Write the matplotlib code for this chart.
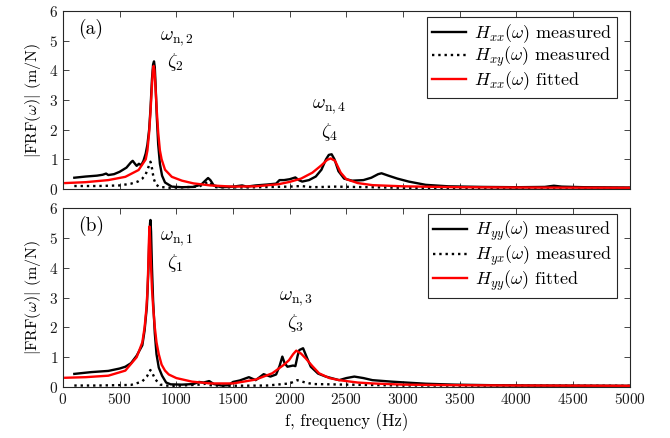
import matplotlib
matplotlib.use("Agg")
import matplotlib.pyplot as plt

plt.rcParams["font.family"] = "cmr10"
plt.rcParams["mathtext.fontset"] = "cm"
plt.rcParams["axes.formatter.use_mathtext"] = True
plt.rcParams["axes.unicode_minus"] = False

# ---- (a) x-direction ----
f_xx_meas = [100, 200, 300, 350, 380, 400, 450, 500, 560, 600, 615, 635, 650, 670, 690,
             710, 730, 745, 760, 772, 785, 795, 803, 810, 818, 828, 840, 855, 874, 900,
             960, 1050, 1150, 1220, 1260, 1280, 1300, 1330, 1400, 1500, 1580, 1620,
             1700, 1800, 1880, 1910, 1950, 2000, 2050, 2080, 2110, 2170, 2230, 2280,
             2320, 2345, 2370, 2395, 2430, 2480, 2550, 2650, 2720, 2780, 2810, 2870,
             2950, 3050, 3200, 3400, 3700, 4000, 4250, 4330, 4400, 4600, 5000]
h_xx_meas = [0.38, 0.42, 0.45, 0.48, 0.52, 0.47, 0.50, 0.58, 0.72, 0.90, 0.95, 0.85, 0.78,
             0.85, 0.80, 0.95, 1.20, 1.50, 2.00, 2.70, 3.70, 4.20, 4.30, 4.10, 3.40,
             2.40, 1.50, 0.85, 0.45, 0.22, 0.08, 0.06, 0.07, 0.15, 0.30, 0.37, 0.30,
             0.12, 0.06, 0.08, 0.12, 0.08, 0.12, 0.15, 0.18, 0.30, 0.30, 0.33, 0.39,
             0.30, 0.25, 0.30, 0.42, 0.65, 1.00, 1.15, 1.17, 1.00, 0.60, 0.35, 0.28,
             0.30, 0.38, 0.50, 0.53, 0.45, 0.35, 0.25, 0.14, 0.09, 0.07, 0.06, 0.07,
             0.11, 0.08, 0.06, 0.05]

f_xy_meas = [100, 300, 500, 600, 660, 700, 730, 760, 772, 785, 800, 820, 850, 950, 1200,
             1260, 1285, 1310, 1350, 1600, 2000, 2100, 2200, 2400, 3000, 5000]
h_xy_meas = [0.10, 0.10, 0.12, 0.18, 0.25, 0.35, 0.50, 0.80, 0.92, 0.70, 0.35, 0.15,
             0.07, 0.04, 0.08, 0.20, 0.25, 0.15, 0.06, 0.05, 0.08, 0.10, 0.06, 0.08,
             0.04, 0.03]

f_xx_fit = [20, 200, 400, 550, 667, 730, 745, 760, 772, 785, 793, 800, 807, 815, 828,
            840, 855, 870, 900, 960, 1050, 1150, 1300, 1500, 1700, 1900, 2000, 2100,
            2200, 2280, 2330, 2362, 2400, 2450, 2500, 2600, 2730, 3000, 3500, 4000, 5000]
h_xx_fit = [0.20, 0.23, 0.30, 0.41, 0.64, 1.00, 1.30, 1.90, 2.60, 3.50, 4.00, 4.15, 4.00,
            3.50, 2.60, 1.90, 1.30, 1.00, 0.65, 0.41, 0.28, 0.19, 0.12, 0.08, 0.09,
            0.16, 0.24, 0.35, 0.55, 0.80, 0.98, 1.03, 0.95, 0.55, 0.33, 0.20, 0.13,
            0.09, 0.06, 0.05, 0.04]

# ---- (b) y-direction ----
f_yy_meas = [100, 250, 400, 500, 550, 600, 650, 700, 720, 740, 752, 760, 768, 772, 777,
             785, 795, 810, 825, 845, 874, 910, 950, 1050, 1150, 1200, 1240, 1290, 1330,
             1400, 1460, 1500, 1560, 1640, 1700, 1770, 1830, 1880, 1910, 1935, 1955,
             1980, 2030, 2050, 2070, 2085, 2118, 2150, 2186, 2250, 2318, 2436, 2500,
             2570, 2650, 2730, 2900, 3025, 3200, 3450, 3800, 4200, 5000]
h_yy_meas = [0.44, 0.50, 0.54, 0.62, 0.68, 0.80, 1.05, 1.40, 1.90, 2.70, 3.80, 4.80, 5.50,
             5.60, 5.20, 4.00, 2.90, 1.80, 1.10, 0.65, 0.38, 0.15, 0.09, 0.08, 0.10,
             0.17, 0.15, 0.20, 0.10, 0.05, 0.06, 0.17, 0.22, 0.33, 0.23, 0.43, 0.35,
             0.42, 0.70, 1.02, 0.80, 0.68, 0.72, 0.70, 1.05, 1.24, 1.30, 1.00, 0.68,
             0.45, 0.35, 0.23, 0.30, 0.35, 0.30, 0.23, 0.18, 0.15, 0.11, 0.08, 0.06,
             0.05, 0.04]

f_yx_meas = [100, 300, 600, 697, 740, 771, 790, 815, 860, 950, 1200, 1260, 1300, 1400,
             1800, 2000, 2067, 2120, 2200, 2500, 3000, 5000]
h_yx_meas = [0.05, 0.05, 0.07, 0.18, 0.35, 0.57, 0.45, 0.25, 0.08, 0.03, 0.08, 0.11,
             0.06, 0.04, 0.05, 0.12, 0.23, 0.17, 0.10, 0.08, 0.05, 0.04]

f_yy_fit = [20, 200, 400, 550, 650, 700, 720, 735, 745, 752, 758, 763, 768, 775, 785,
            795, 810, 825, 845, 870, 900, 933, 1000, 1139, 1300, 1500, 1700, 1846, 1950,
            1994, 2030, 2058, 2100, 2141, 2200, 2259, 2350, 2436, 2600, 2730, 3000,
            3500, 4000, 5000]
h_yy_fit = [0.31, 0.33, 0.38, 0.55, 1.00, 1.50, 2.00, 2.60, 3.20, 4.00, 4.90, 5.38, 5.00,
            4.20, 3.30, 2.70, 2.00, 1.50, 1.10, 0.75, 0.55, 0.42, 0.30, 0.18, 0.12,
            0.12, 0.25, 0.46, 0.75, 0.90, 1.10, 1.22, 1.12, 0.96, 0.70, 0.46, 0.30,
            0.23, 0.15, 0.12, 0.08, 0.06, 0.05, 0.04]

x_ticks = [0, 500, 1000, 1500, 2000, 2500, 3000, 3500, 4000, 4500, 5000]
y_ticks = [0, 1, 2, 3, 4, 5, 6]

fig = plt.figure(figsize=(6.7, 4.38), dpi=100)
ax_a = fig.add_axes([0.094, 0.5685, 0.846, 0.4065])
ax_b = fig.add_axes([0.094, 0.1164, 0.846, 0.4086])

spine_col = "#262626"


def style(ax):
    ax.set_xlim(0, 5000)
    ax.set_ylim(0, 6)
    ax.set_xticks(x_ticks)
    ax.set_yticks(y_ticks)
    ax.tick_params(direction="in", top=True, right=True, length=4, width=0.6,
                   color=spine_col, labelsize=11, labelcolor="#1a1a1a")
    for s in ax.spines.values():
        s.set_color(spine_col)
        s.set_linewidth(0.8)
    ax.set_ylabel(r"$|\mathrm{FRF}(\omega)|$ (m/N)", fontsize=11.5)


lw = 1.7
ax_a.plot(f_xx_meas, h_xx_meas, color="black", lw=lw, label=r"$H_{xx}(\omega)$ measured")
ax_a.plot(f_xy_meas, h_xy_meas, color="black", lw=lw, ls=":", label=r"$H_{xy}(\omega)$ measured")
ax_a.plot(f_xx_fit, h_xx_fit, color="red", lw=lw, label=r"$H_{xx}(\omega)$ fitted")

ax_b.plot(f_yy_meas, h_yy_meas, color="black", lw=lw, label=r"$H_{yy}(\omega)$ measured")
ax_b.plot(f_yx_meas, h_yx_meas, color="black", lw=lw, ls=":", label=r"$H_{yx}(\omega)$ measured")
ax_b.plot(f_yy_fit, h_yy_fit, color="red", lw=lw, label=r"$H_{yy}(\omega)$ fitted")

for ax, tag in ((ax_a, "(a)"), (ax_b, "(b)")):
    style(ax)
    ax.text(0.027, 0.955, tag, transform=ax.transAxes, ha="left", va="top", fontsize=14)
    leg = ax.legend(loc="upper right", bbox_to_anchor=(0.977, 0.968), borderaxespad=0,
                    fontsize=13, frameon=True, fancybox=False, framealpha=1,
                    handlelength=1.9, handletextpad=0.4, labelspacing=0.02,
                    borderpad=0.3)
    leg.get_frame().set_edgecolor(spine_col)
    leg.get_frame().set_linewidth(0.8)

ax_a.tick_params(labelbottom=False)
ax_b.set_xlabel("f, frequency (Hz)", fontsize=12)

# Modal labels
ax_a.text(1005, 5.08, r"$\omega_{\mathrm{n},2}$", ha="center", va="center", fontsize=14)
ax_a.text(990, 4.29, r"$\zeta_2$", ha="center", va="center", fontsize=14)
ax_a.text(2352, 2.77, r"$\omega_{\mathrm{n},4}$", ha="center", va="center", fontsize=14)
ax_a.text(2352, 1.93, r"$\zeta_4$", ha="center", va="center", fontsize=14)
ax_b.text(1005, 4.99, r"$\omega_{\mathrm{n},1}$", ha="center", va="center", fontsize=14)
ax_b.text(990, 4.15, r"$\zeta_1$", ha="center", va="center", fontsize=14)
ax_b.text(2053, 2.98, r"$\omega_{\mathrm{n},3}$", ha="center", va="center", fontsize=14)
ax_b.text(2053, 2.14, r"$\zeta_3$", ha="center", va="center", fontsize=14)

fig.savefig("out.png", dpi=100)
